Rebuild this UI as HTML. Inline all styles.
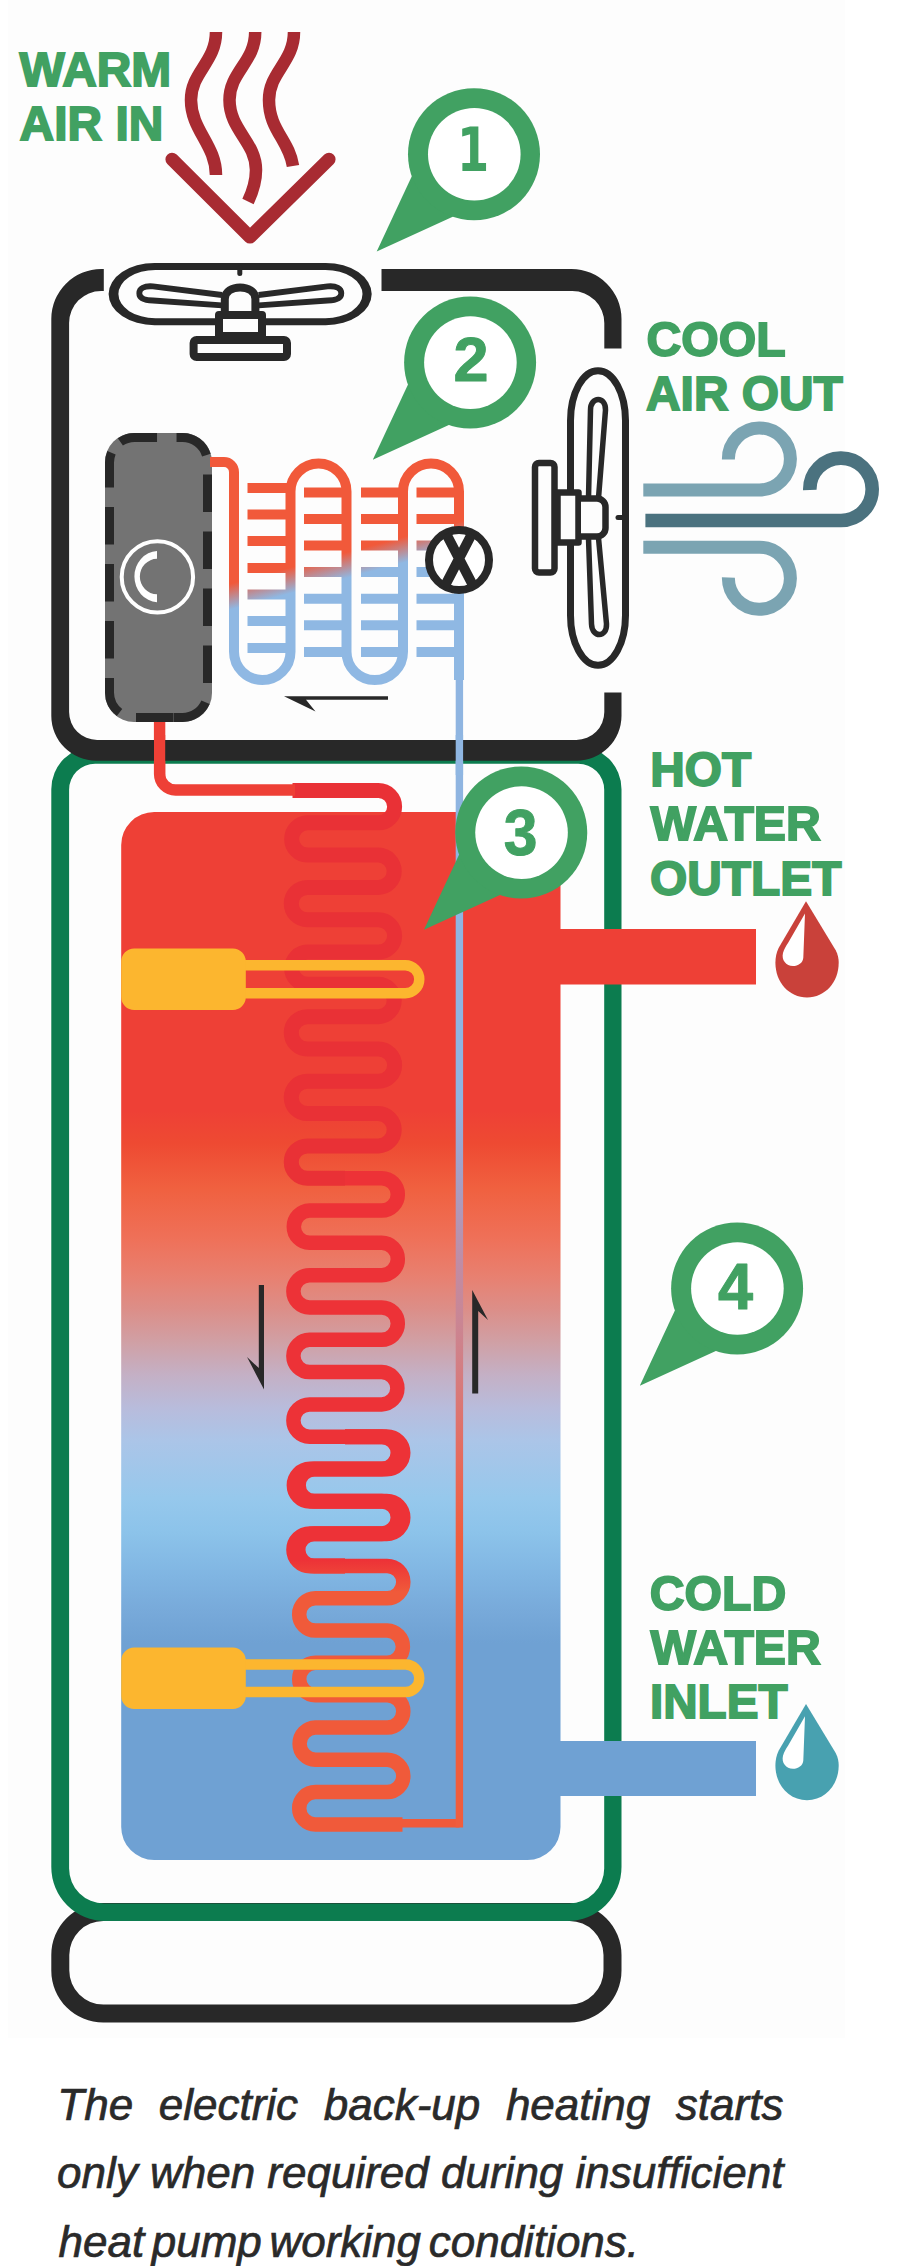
<!DOCTYPE html>
<html lang="en">
<head>
<meta charset="utf-8">
<title>Heat pump water heater diagram</title>
<style>
html,body{margin:0;padding:0;background:#fff;}
body{width:912px;height:2266px;overflow:hidden;}
svg{display:block;}
</style>
</head>
<body>
<svg width="912" height="2266" viewBox="0 0 912 2266">
<rect x="8" y="0" width="837" height="2038" fill="#fdfdfd"/>
<defs>
<linearGradient id="tank" x1="0" y1="812" x2="0" y2="1860" gradientUnits="userSpaceOnUse">
<stop offset="0" stop-color="#ee4036"/>
<stop offset="0.285" stop-color="#ee4036"/>
<stop offset="0.316" stop-color="#ee4a32"/>
<stop offset="0.358" stop-color="#f0603f"/>
<stop offset="0.406" stop-color="#ef7058"/>
<stop offset="0.443" stop-color="#e88070"/>
<stop offset="0.474" stop-color="#dc8e88"/>
<stop offset="0.506" stop-color="#d0a0a5"/>
<stop offset="0.537" stop-color="#c4b0c5"/>
<stop offset="0.569" stop-color="#b8bcdc"/>
<stop offset="0.600" stop-color="#abc5e8"/>
<stop offset="0.655" stop-color="#96c8ec"/>
<stop offset="0.687" stop-color="#8cc3ea"/>
<stop offset="0.729" stop-color="#80b5e2"/>
<stop offset="0.761" stop-color="#78aada"/>
<stop offset="0.793" stop-color="#6fa1d3"/>
<stop offset="1" stop-color="#6fa1d3"/>
</linearGradient>
<linearGradient id="evap" x1="300" y1="565" x2="306.5" y2="589" gradientUnits="userSpaceOnUse">
<stop offset="0" stop-color="#f1593a"/>
<stop offset="1" stop-color="#8fb8e3"/>
</linearGradient>
<linearGradient id="vline" x1="0" y1="1100" x2="0" y2="1540" gradientUnits="userSpaceOnUse">
<stop offset="0" stop-color="#8fb5e1"/>
<stop offset="0.134" stop-color="#a0a4cc"/>
<stop offset="0.255" stop-color="#b098b8"/>
<stop offset="0.375" stop-color="#c08ca4"/>
<stop offset="0.495" stop-color="#c98695"/>
<stop offset="0.584" stop-color="#d18087"/>
<stop offset="0.675" stop-color="#d97877"/>
<stop offset="0.766" stop-color="#e17067"/>
<stop offset="0.857" stop-color="#e96856"/>
<stop offset="1" stop-color="#f05d3e"/>
</linearGradient>
<linearGradient id="coilg" x1="0" y1="1560" x2="0" y2="1592" gradientUnits="userSpaceOnUse">
<stop offset="0" stop-color="#ed3237"/>
<stop offset="1" stop-color="#f05a3a"/>
</linearGradient>
</defs>
<path fill="#282828" fill-rule="evenodd" d="M103.3,1903 H569.5 A52,52 0 0 1 621.5,1955 V1970.5 A52,52 0 0 1 569.5,2022.5 H103.3 A52,52 0 0 1 51.3,1970.5 V1955 A52,52 0 0 1 103.3,1903 Z M103.3,1921 H569.5 A34,34 0 0 1 603.5,1955 V1970.5 A34,34 0 0 1 569.5,2004.5 H103.3 A34,34 0 0 1 69.3,1970.5 V1955 A34,34 0 0 1 103.3,1921 Z"/>
<path fill="#0c7c4f" fill-rule="evenodd" d="M94.3,746.2 H578.5 A43,43 0 0 1 621.5,789.2 V1867 A54,54 0 0 1 567.5,1921 H105.3 A54,54 0 0 1 51.3,1867 V789.2 A43,43 0 0 1 94.3,746.2 Z M95.1,763.7 H578.2 A26,26 0 0 1 604.2,789.7 V1868.5 A35,35 0 0 1 569.2,1903.5 H104.1 A35,35 0 0 1 69.1,1868.5 V789.7 A26,26 0 0 1 95.1,763.7 Z"/>
<path fill="url(#tank)" d="M154.2,812 H527.5 A33,33 0 0 1 560.5,845 V1827 A33,33 0 0 1 527.5,1860 H154.2 A33,33 0 0 1 121.2,1827 V845 A33,33 0 0 1 154.2,812 Z"/>
<rect x="540" y="929" width="216" height="55.5" fill="#ee4036"/>
<rect x="540" y="1741" width="216" height="55" fill="#6fa1d3"/>
<clipPath id="c1"><path d="M0,700 H912 V1165 H345 V1190 H0 Z"/></clipPath>
<clipPath id="c2"><path d="M345,1165 H912 V1420 H345 V1446 H0 V1190 H345 Z"/></clipPath>
<clipPath id="c2b"><path d="M345,1420 H912 V1558 H345 V1583 H0 V1446 H345 Z"/></clipPath>
<clipPath id="c3"><path d="M345,1558 H912 V1900 H0 V1583 H345 Z"/></clipPath>
<path clip-path="url(#c1)" fill="none" stroke="#e93136" stroke-width="15" d="M292.5,790.5 H378.45 A16.15,16.15 0 0 1 378.45,822.81 H307.41 A16.16,16.16 0 0 0 307.41,855.12 H378.44 A16.16,16.16 0 0 1 378.44,887.43 H307.4 A16.15,16.15 0 0 0 307.4,919.74 H378.45 A16.15,16.15 0 0 1 378.45,952.05 H307.41 A16.16,16.16 0 0 0 307.41,984.36 H378.44 A16.16,16.16 0 0 1 378.44,1016.67 H307.4 A16.15,16.15 0 0 0 307.4,1048.98 H378.45 A16.15,16.15 0 0 1 378.45,1081.29 H307.4 A16.15,16.15 0 0 0 307.4,1113.6 H378.44 A16.16,16.16 0 0 1 378.44,1145.91 H307.4 A16.15,16.15 0 0 0 307.4,1178.22 H378.45 A16.15,16.15 0 0 1 378.45,1210.53 H307.41 A16.16,16.16 0 0 0 307.41,1242.84 H378.45 A16.15,16.15 0 0 1 378.45,1275.15 H307.4 A16.15,16.15 0 0 0 307.4,1307.46 H378.45 A16.15,16.15 0 0 1 378.45,1339.77 H307.4 A16.15,16.15 0 0 0 307.4,1372.08 H378.44 A16.16,16.16 0 0 1 378.44,1404.39 H307.4 A16.15,16.15 0 0 0 307.4,1436.7 H378.45 A16.15,16.15 0 0 1 378.45,1469.01 H307.41 A16.16,16.16 0 0 0 307.41,1501.32 H378.45 A16.15,16.15 0 0 1 378.45,1533.63 H307.4 A16.15,16.15 0 0 0 307.4,1565.94 H378.45 A16.15,16.15 0 0 1 378.45,1598.25 H307.4 A16.15,16.15 0 0 0 307.4,1630.56 H378.44 A16.16,16.16 0 0 1 378.44,1662.87 H307.4 A16.15,16.15 0 0 0 307.4,1695.18 H378.45 A16.15,16.15 0 0 1 378.45,1727.49 H307.41 A16.16,16.16 0 0 0 307.41,1759.8 H378.45 A16.15,16.15 0 0 1 378.45,1792.11 H307.4 A16.15,16.15 0 0 0 307.4,1824.42 H378.45"/>
<path clip-path="url(#c2)" fill="none" stroke="#ed3237" stroke-width="14.5" d="M292.5,790.5 H381.65 A16.15,16.15 0 0 1 381.65,822.81 H309.56 A16.16,16.16 0 0 0 309.56,855.12 H381.64 A16.16,16.16 0 0 1 381.64,887.43 H309.55 A16.15,16.15 0 0 0 309.55,919.74 H381.65 A16.15,16.15 0 0 1 381.65,952.05 H309.56 A16.16,16.16 0 0 0 309.56,984.36 H381.64 A16.16,16.16 0 0 1 381.64,1016.67 H309.55 A16.15,16.15 0 0 0 309.55,1048.98 H381.65 A16.15,16.15 0 0 1 381.65,1081.29 H309.55 A16.15,16.15 0 0 0 309.55,1113.6 H381.64 A16.16,16.16 0 0 1 381.64,1145.91 H309.55 A16.15,16.15 0 0 0 309.55,1178.22 H381.65 A16.15,16.15 0 0 1 381.65,1210.53 H309.56 A16.16,16.16 0 0 0 309.56,1242.84 H381.65 A16.15,16.15 0 0 1 381.65,1275.15 H309.55 A16.15,16.15 0 0 0 309.55,1307.46 H381.65 A16.15,16.15 0 0 1 381.65,1339.77 H309.55 A16.15,16.15 0 0 0 309.55,1372.08 H381.64 A16.16,16.16 0 0 1 381.64,1404.39 H309.55 A16.15,16.15 0 0 0 309.55,1436.7 H381.65 A16.15,16.15 0 0 1 381.65,1469.01 H309.56 A16.16,16.16 0 0 0 309.56,1501.32 H381.65 A16.15,16.15 0 0 1 381.65,1533.63 H309.55 A16.15,16.15 0 0 0 309.55,1565.94 H381.65 A16.15,16.15 0 0 1 381.65,1598.25 H309.55 A16.15,16.15 0 0 0 309.55,1630.56 H381.64 A16.16,16.16 0 0 1 381.64,1662.87 H309.55 A16.15,16.15 0 0 0 309.55,1695.18 H381.65 A16.15,16.15 0 0 1 381.65,1727.49 H309.56 A16.16,16.16 0 0 0 309.56,1759.8 H381.65 A16.15,16.15 0 0 1 381.65,1792.11 H309.55 A16.15,16.15 0 0 0 309.55,1824.42 H381.65"/>
<path clip-path="url(#c2b)" fill="none" stroke="url(#coilg)" stroke-width="15" d="M292.5,790.5 H381.85 A16.15,16.15 0 0 1 381.85,822.81 H309.86 A16.16,16.16 0 0 0 309.86,855.12 H381.84 A16.16,16.16 0 0 1 381.84,887.43 H309.85 A16.15,16.15 0 0 0 309.85,919.74 H381.85 A16.15,16.15 0 0 1 381.85,952.05 H309.86 A16.16,16.16 0 0 0 309.86,984.36 H381.84 A16.16,16.16 0 0 1 381.84,1016.67 H309.85 A16.15,16.15 0 0 0 309.85,1048.98 H381.85 A16.15,16.15 0 0 1 381.85,1081.29 H309.85 A16.15,16.15 0 0 0 309.85,1113.6 H381.84 A16.16,16.16 0 0 1 381.84,1145.91 H309.85 A16.15,16.15 0 0 0 309.85,1178.22 H381.85 A16.15,16.15 0 0 1 381.85,1210.53 H309.86 A16.16,16.16 0 0 0 309.86,1242.84 H381.85 A16.15,16.15 0 0 1 381.85,1275.15 H309.85 A16.15,16.15 0 0 0 309.85,1307.46 H381.85 A16.15,16.15 0 0 1 381.85,1339.77 H309.85 A16.15,16.15 0 0 0 309.85,1372.08 H381.84 A16.16,16.16 0 0 1 381.84,1404.39 H309.85 A16.15,16.15 0 0 0 309.85,1436.7 H381.85 A16.15,16.15 0 0 1 381.85,1469.01 H309.86 A16.16,16.16 0 0 0 309.86,1501.32 H381.85 A16.15,16.15 0 0 1 381.85,1533.63 H309.85 A16.15,16.15 0 0 0 309.85,1565.94 H381.85 A16.15,16.15 0 0 1 381.85,1598.25 H309.85 A16.15,16.15 0 0 0 309.85,1630.56 H381.84 A16.16,16.16 0 0 1 381.84,1662.87 H309.85 A16.15,16.15 0 0 0 309.85,1695.18 H381.85 A16.15,16.15 0 0 1 381.85,1727.49 H309.86 A16.16,16.16 0 0 0 309.86,1759.8 H381.85 A16.15,16.15 0 0 1 381.85,1792.11 H309.85 A16.15,16.15 0 0 0 309.85,1824.42 H381.85"/>
<path clip-path="url(#c2b)" fill="none" stroke="url(#coilg)" stroke-width="15" d="M292.5,790.5 H386.85 A16.15,16.15 0 0 1 386.85,822.81 H314.16 A16.16,16.16 0 0 0 314.16,855.12 H386.84 A16.16,16.16 0 0 1 386.84,887.43 H314.15 A16.15,16.15 0 0 0 314.15,919.74 H386.85 A16.15,16.15 0 0 1 386.85,952.05 H314.16 A16.16,16.16 0 0 0 314.16,984.36 H386.84 A16.16,16.16 0 0 1 386.84,1016.67 H314.15 A16.15,16.15 0 0 0 314.15,1048.98 H386.85 A16.15,16.15 0 0 1 386.85,1081.29 H314.15 A16.15,16.15 0 0 0 314.15,1113.6 H386.84 A16.16,16.16 0 0 1 386.84,1145.91 H314.15 A16.15,16.15 0 0 0 314.15,1178.22 H386.85 A16.15,16.15 0 0 1 386.85,1210.53 H314.16 A16.16,16.16 0 0 0 314.16,1242.84 H386.85 A16.15,16.15 0 0 1 386.85,1275.15 H314.15 A16.15,16.15 0 0 0 314.15,1307.46 H386.85 A16.15,16.15 0 0 1 386.85,1339.77 H314.15 A16.15,16.15 0 0 0 314.15,1372.08 H386.84 A16.16,16.16 0 0 1 386.84,1404.39 H314.15 A16.15,16.15 0 0 0 314.15,1436.7 H386.85 A16.15,16.15 0 0 1 386.85,1469.01 H314.16 A16.16,16.16 0 0 0 314.16,1501.32 H386.85 A16.15,16.15 0 0 1 386.85,1533.63 H314.15 A16.15,16.15 0 0 0 314.15,1565.94 H386.85 A16.15,16.15 0 0 1 386.85,1598.25 H314.15 A16.15,16.15 0 0 0 314.15,1630.56 H386.84 A16.16,16.16 0 0 1 386.84,1662.87 H314.15 A16.15,16.15 0 0 0 314.15,1695.18 H386.85 A16.15,16.15 0 0 1 386.85,1727.49 H314.16 A16.16,16.16 0 0 0 314.16,1759.8 H386.85 A16.15,16.15 0 0 1 386.85,1792.11 H314.15 A16.15,16.15 0 0 0 314.15,1824.42 H386.85"/>
<path clip-path="url(#c3)" fill="none" stroke="url(#coilg)" stroke-width="14.5" d="M292.5,790.5 H387.15 A16.15,16.15 0 0 1 387.15,822.81 H315.36 A16.16,16.16 0 0 0 315.36,855.12 H387.14 A16.16,16.16 0 0 1 387.14,887.43 H315.35 A16.15,16.15 0 0 0 315.35,919.74 H387.15 A16.15,16.15 0 0 1 387.15,952.05 H315.36 A16.16,16.16 0 0 0 315.36,984.36 H387.14 A16.16,16.16 0 0 1 387.14,1016.67 H315.35 A16.15,16.15 0 0 0 315.35,1048.98 H387.15 A16.15,16.15 0 0 1 387.15,1081.29 H315.35 A16.15,16.15 0 0 0 315.35,1113.6 H387.14 A16.16,16.16 0 0 1 387.14,1145.91 H315.35 A16.15,16.15 0 0 0 315.35,1178.22 H387.15 A16.15,16.15 0 0 1 387.15,1210.53 H315.36 A16.16,16.16 0 0 0 315.36,1242.84 H387.15 A16.15,16.15 0 0 1 387.15,1275.15 H315.35 A16.15,16.15 0 0 0 315.35,1307.46 H387.15 A16.15,16.15 0 0 1 387.15,1339.77 H315.35 A16.15,16.15 0 0 0 315.35,1372.08 H387.14 A16.16,16.16 0 0 1 387.14,1404.39 H315.35 A16.15,16.15 0 0 0 315.35,1436.7 H387.15 A16.15,16.15 0 0 1 387.15,1469.01 H315.36 A16.16,16.16 0 0 0 315.36,1501.32 H387.15 A16.15,16.15 0 0 1 387.15,1533.63 H315.35 A16.15,16.15 0 0 0 315.35,1565.94 H387.15 A16.15,16.15 0 0 1 387.15,1598.25 H315.35 A16.15,16.15 0 0 0 315.35,1630.56 H387.14 A16.16,16.16 0 0 1 387.14,1662.87 H315.35 A16.15,16.15 0 0 0 315.35,1695.18 H387.15 A16.15,16.15 0 0 1 387.15,1727.49 H315.36 A16.16,16.16 0 0 0 315.36,1759.8 H387.15 A16.15,16.15 0 0 1 387.15,1792.11 H315.35 A16.15,16.15 0 0 0 315.35,1824.42 H402.5"/>
<path fill="none" stroke="#f05a3a" stroke-width="8.6" d="M400,1823.2 H459.4"/>
<rect x="455.7" y="670" width="7.4" height="1157.5" fill="url(#vline)"/>
<path fill="none" stroke="#fcb62f" stroke-width="10.4" d="M240,965.2 H405.25 a14.05,14.05 0 0 1 0,28.1 H240"/>
<path fill="#fcb62f" d="M134.2,948.5 H232.8 A13,13 0 0 1 245.8,961.5 V997 A13,13 0 0 1 232.8,1010 H134.2 A13,13 0 0 1 121.2,997 V961.5 A13,13 0 0 1 134.2,948.5 Z"/>
<path fill="none" stroke="#fcb62f" stroke-width="10.4" d="M240,1664.5 H405.55 a13.75,13.75 0 0 1 0,27.5 H240"/>
<path fill="#fcb62f" d="M134.2,1647.6 H232.8 A13,13 0 0 1 245.8,1660.6 V1696 A13,13 0 0 1 232.8,1709 H134.2 A13,13 0 0 1 121.2,1696 V1660.6 A13,13 0 0 1 134.2,1647.6 Z"/>
<path fill="none" stroke="#ee4036" stroke-width="11.4" d="M159.6,715 V774 a16,16 0 0 0 16,16 H295"/>
<clipPath id="bclip"><path d="M0,200 H103.8 V300 H0 Z M381.5,200 H700 V348.5 H381.5 Z M0,300 H590 V800 H0 Z M590,692.5 H700 V800 H590 Z"/></clipPath>
<path clip-path="url(#bclip)" fill="#282828" fill-rule="evenodd" d="M101.3,269 H571.5 A50,50 0 0 1 621.5,319 V715.7 A45,45 0 0 1 576.5,760.7 H96.3 A45,45 0 0 1 51.3,715.7 V319 A50,50 0 0 1 101.3,269 Z M101.1,291 H572.3 A32,32 0 0 1 604.3,323 V712 A28,28 0 0 1 576.3,740 H97.1 A28,28 0 0 1 69.1,712 V323 A32,32 0 0 1 101.1,291 Z"/>
<rect x="455.7" y="735" width="7.4" height="40" fill="#8fb6e2"/>
<rect x="154" y="735" width="11.2" height="40" fill="#ee4036"/>
<path fill="#737373" d="M134,433 H183 A29,29 0 0 1 212,462 V693 A29,29 0 0 1 183,722 H134 A29,29 0 0 1 105,693 V462 A29,29 0 0 1 134,433 Z"/>
<path fill="none" stroke="#282828" stroke-width="9" stroke-dasharray="37.5 19.5 37.5 19.5 37.5 19.5 37.5 19.5 37.5 19.5 37.5 19.5 37.5 2000" d="M174,717.5 H182.5 A25,25 0 0 0 207.5,692.5 V462.5 A25,25 0 0 0 182.5,437.5 H134.5 A25,25 0 0 0 109.5,462.5"/>
<path fill="none" stroke="#282828" stroke-width="9" stroke-dasharray="37.5 17.5 37.5 19.5 37.5 19.5 37.5 19.5 37.5 19.5 35 2000" d="M173.5,717.5 H134.5 A25,25 0 0 1 109.5,692.5 V462.5 A25,25 0 0 1 134.5,437.5"/>
<circle cx="157.4" cy="576.9" r="35.7" fill="none" stroke="#fff" stroke-width="4"/>
<path fill="#fff" d="M157,550.9 A24.1,25.7 0 0 0 157,602.2 V594.3 A17.1,17.7 0 0 1 157,558.8 Z"/>
<path fill="none" stroke="url(#evap)" stroke-width="10" d="M210,462 H224 a10,10 0 0 1 10,10 V651.75 A28.25,28.25 0 0 0 290.5,651.75 V491.5 A28,28 0 0 1 346.5,491.5 V651.75 A28.25,28.25 0 0 0 403,651.75 V491.5 A28,28 0 0 1 459,491.5 V680"/>
<path fill="none" stroke="url(#evap)" stroke-width="10" d="M247.5,488 H290.5 M247.5,514.5 H290.5 M247.5,541 H290.5 M247.5,568 H290.5 M247.5,594.5 H290.5 M247.5,621 H290.5 M247.5,648 H290.5 M304,492.5 H346.5 M361,492.5 H403 M416.5,492.5 H459 M304,519 H346.5 M361,519 H403 M416.5,519 H459 M304,545.5 H346.5 M361,545.5 H403 M416.5,545.5 H459 M304,572 H346.5 M361,572 H403 M416.5,572 H459 M304,598.7 H346.5 M361,598.7 H403 M416.5,598.7 H459 M304,625.3 H346.5 M361,625.3 H403 M416.5,625.3 H459 M304,652 H346.5 M361,652 H403 M416.5,652 H459 "/>
<path fill="#282828" d="M388,696.3 H284 L315.5,711.5 L306,699.8 H388 Z"/>
<circle cx="459" cy="560" r="30" fill="#fff" stroke="#282828" stroke-width="8"/>
<path fill="none" stroke="#282828" stroke-width="10" d="M446.3,534 L473.8,587 M471.8,534 L444.3,587"/>
<path fill="#282828" fill-rule="evenodd" d="M154.6,262.9 H325.7 A46,31.15 0 0 1 371.7,294.05 V294.05 A46,31.15 0 0 1 325.7,325.2 H154.6 A46,31.15 0 0 1 108.6,294.05 V294.05 A46,31.15 0 0 1 154.6,262.9 Z M155.4,270 H325.5 A37,24.1 0 0 1 362.5,294.1 V294.1 A37,24.1 0 0 1 325.5,318.2 H155.4 A37,24.1 0 0 1 118.4,294.1 V294.1 A37,24.1 0 0 1 155.4,270 Z"/>
<g fill="none" stroke="#282828" stroke-width="8" stroke-linejoin="round"><path stroke-width="5.8" d="M222,295 L153,286.4 C144,285.6 139.3,288.5 139.3,293.2 C139.3,298 144,300.3 153,300.5 L222,305.3"/><path stroke-width="5.8" d="M258.6,295 L327.6,286.4 C336.6,285.6 341.3,288.5 341.3,293.2 C341.3,298 336.6,300.3 327.6,300.5 L258.6,305.3"/><path d="M224.8,313 V299 C224.8,283.5 255.4,283.5 255.4,299 V313"/><rect x="219" y="315" width="43" height="21" fill="#fdfdfd"/><rect x="193.6" y="340" width="93.4" height="17" rx="3" fill="#fdfdfd"/><path stroke-width="5" stroke-linecap="round" d="M239.8,268 V273.5"/></g>
<g fill="none" stroke="#282828" stroke-width="6.5" stroke-linejoin="round"><path stroke-width="7" d="M598,370.7 H598 A27.5,50 0 0 1 625.5,420.7 V615.3 A27.5,50 0 0 1 598,665.3 H598 A27.5,50 0 0 1 570.5,615.3 V420.7 A27.5,50 0 0 1 598,370.7 Z"/><path stroke-width="5.5" d="M588.5,498 L590.5,410 C590.5,396 606,396 605.5,410 L598.5,498"/><path stroke-width="5.5" d="M588.5,538 L591.5,624 C592,638 607,638 606.5,624 L598.5,538"/><rect x="535" y="463" width="19.5" height="109.5" rx="4" fill="#fdfdfd"/><rect x="557.5" y="492.5" width="21" height="50" fill="#fdfdfd"/><path d="M581,498.5 H597 a8.5,8.5 0 0 1 8.5,8.5 V528 a8.5,8.5 0 0 1 -8.5,8.5 H581" fill="#fdfdfd"/><path stroke-width="5" stroke-linecap="round" d="M618,517.5 H623"/></g>
<g fill="none" stroke-width="13"><path stroke="#7ba4b2" d="M643.3,490 H759.4 A31,31 0 1 0 728.4,459.5"/><path stroke="#4b727f" stroke-width="13.6" d="M645.4,520.5 H841 A31.2,31.2 0 1 0 809.8,490"/><path stroke="#7ba4b2" d="M643.3,547.2 H759.4 A31,31 0 1 1 728.4,577.5"/></g>
<g fill="none" stroke="#a82b32" stroke-width="12.5"><path d="M216,32 C216,62 191,72 191,100 C191,130 216,145 216,175"/><path d="M255.2,32 C255.2,62 229.5,72 229.5,100 C229.5,130 256,142 256,170 C256,183 252.5,192 248,201.5"/><path d="M294,32 C294,62 269,72 269,100 C269,130 289,140 293,166"/><path stroke-linecap="round" stroke-linejoin="round" stroke-width="13.2" d="M172,159.3 L250,237 L329,159.3"/></g>
<path fill="#c9413a" d="M806,901.3 L835.7,950.3 C838,955 838.7,958.8 838.7,962.8 C838.7,982.3 825,997.5 807,997.5 C789,997.5 775.4,982.3 775.4,962.8 C775.4,957.3 776.5,952.8 778.6,948.1 Z"/><path fill="#fff" d="M805,913.6 L803.3,957.8 C803,963 798,966.1 793,966.1 C786,966.1 781.2,959.8 783,953 C784,949 786,946 788,943 Z"/>
<path fill="#48a1b0" d="M806,1704 L835.7,1753 C838,1757.7 838.7,1761.5 838.7,1765.5 C838.7,1785 825,1800.2 807,1800.2 C789,1800.2 775.4,1785 775.4,1765.5 C775.4,1760 776.5,1755.5 778.6,1750.8 Z"/><path fill="#fff" d="M805,1716.3 L803.3,1760.5 C803,1765.7 798,1768.8 793,1768.8 C786,1768.8 781.2,1762.5 783,1755.7 C784,1751.7 786,1748.7 788,1745.7 Z"/>
<path fill="#282828" d="M258.8,1285 H264 V1389.5 L247,1357 L258.8,1368 Z"/>
<path fill="#282828" d="M472.2,1393.5 H478.2 V1311 L488,1320 L472.2,1290 Z"/>
<g><path fill="#41a162" d="M376.7,251.45 L411.79,176.28 L474,154.25 L452.73,216.73 Z"/><circle cx="474" cy="154.25" r="66" fill="#41a162"/><circle cx="474.3" cy="154.25" r="46.3" fill="#fff"/><text transform="translate(473,170.75) scale(0.76,1)" font-family="'DejaVu Sans', sans-serif" font-weight="bold" font-size="61" text-anchor="middle" fill="#41a162">1</text></g>
<g><path fill="#41a162" d="M372.8,459.8 L407.89,384.63 L470.1,362.6 L448.83,425.08 Z"/><circle cx="470.1" cy="362.6" r="66" fill="#41a162"/><circle cx="470.4" cy="362.6" r="46.3" fill="#fff"/><text transform="translate(470.9,381.4) scale(1,1)" font-family="'Liberation Sans', sans-serif" font-weight="bold" font-size="63" text-anchor="middle" fill="#41a162" stroke="#41a162" stroke-width="1" stroke-linejoin="round">2</text></g>
<g><path fill="#41a162" d="M423.95,929.8 L459.04,854.63 L521.25,832.6 L499.98,895.08 Z"/><circle cx="521.25" cy="832.6" r="66" fill="#41a162"/><circle cx="521.55" cy="832.6" r="46.3" fill="#fff"/><text transform="translate(520.65,854.7) scale(0.96,1.035)" font-family="'Liberation Sans', sans-serif" font-weight="bold" font-size="63" text-anchor="middle" fill="#41a162" stroke="#41a162" stroke-width="1" stroke-linejoin="round">3</text></g>
<g><path fill="#41a162" d="M639.8,1385.7 L674.89,1310.53 L737.1,1288.5 L715.83,1350.98 Z"/><circle cx="737.1" cy="1288.5" r="66" fill="#41a162"/><circle cx="737.4" cy="1288.5" r="46.3" fill="#fff"/><text transform="translate(735.5,1309.3) scale(1,1.03)" font-family="'Liberation Sans', sans-serif" font-weight="bold" font-size="63" text-anchor="middle" fill="#41a162" stroke="#41a162" stroke-width="1" stroke-linejoin="round">4</text></g>
<text x="19.6" y="86" font-family="'Liberation Sans', sans-serif" font-weight="bold" font-size="47.9" fill="#41a162" stroke="#41a162" stroke-width="1.8" stroke-linejoin="miter" stroke-miterlimit="3">WARM</text>
<text x="19.6" y="139.8" font-family="'Liberation Sans', sans-serif" font-weight="bold" font-size="47.9" fill="#41a162" stroke="#41a162" stroke-width="1.8" stroke-linejoin="miter" stroke-miterlimit="3">AIR IN</text>
<text x="646.5" y="356.3" font-family="'Liberation Sans', sans-serif" font-weight="bold" font-size="48.2" fill="#41a162" stroke="#41a162" stroke-width="1.8" stroke-linejoin="miter" stroke-miterlimit="3">COOL</text>
<text x="646" y="409.5" font-family="'Liberation Sans', sans-serif" font-weight="bold" font-size="47.9" fill="#41a162" stroke="#41a162" stroke-width="1.8" stroke-linejoin="miter" stroke-miterlimit="3">AIR OUT</text>
<text x="650.3" y="786" font-family="'Liberation Sans', sans-serif" font-weight="bold" font-size="47.8" fill="#41a162" stroke="#41a162" stroke-width="1.8" stroke-linejoin="miter" stroke-miterlimit="3">HOT</text>
<text x="650.4" y="840" font-family="'Liberation Sans', sans-serif" font-weight="bold" font-size="48.2" fill="#41a162" stroke="#41a162" stroke-width="1.8" stroke-linejoin="miter" stroke-miterlimit="3">WATER</text>
<text x="649.9" y="895" font-family="'Liberation Sans', sans-serif" font-weight="bold" font-size="47.9" fill="#41a162" stroke="#41a162" stroke-width="1.8" stroke-linejoin="miter" stroke-miterlimit="3">OUTLET</text>
<text x="649.8" y="1610" font-family="'Liberation Sans', sans-serif" font-weight="bold" font-size="48.2" fill="#41a162" stroke="#41a162" stroke-width="1.8" stroke-linejoin="miter" stroke-miterlimit="3">COLD</text>
<text x="650.4" y="1663.8" font-family="'Liberation Sans', sans-serif" font-weight="bold" font-size="48.2" fill="#41a162" stroke="#41a162" stroke-width="1.8" stroke-linejoin="miter" stroke-miterlimit="3">WATER</text>
<text x="650" y="1718" font-family="'Liberation Sans', sans-serif" font-weight="bold" font-size="47.6" fill="#41a162" stroke="#41a162" stroke-width="1.8" stroke-linejoin="miter" stroke-miterlimit="3">INLET</text>
<text x="57.3" y="2120" font-family="'Liberation Sans', sans-serif" font-style="italic" font-size="44" fill="#2a2a2a" stroke="#2a2a2a" stroke-width="0.7" word-spacing="13.4">The electric back-up heating starts</text>
<text x="57" y="2188.2" font-family="'Liberation Sans', sans-serif" font-style="italic" font-size="44" fill="#2a2a2a" stroke="#2a2a2a" stroke-width="0.7" word-spacing="0">only when required during insufficient</text>
<text x="58.5" y="2257" font-family="'Liberation Sans', sans-serif" font-style="italic" font-size="44" fill="#2a2a2a" stroke="#2a2a2a" stroke-width="0.7" word-spacing="-4.6">heat pump working conditions.</text>
</svg>
</body>
</html>
